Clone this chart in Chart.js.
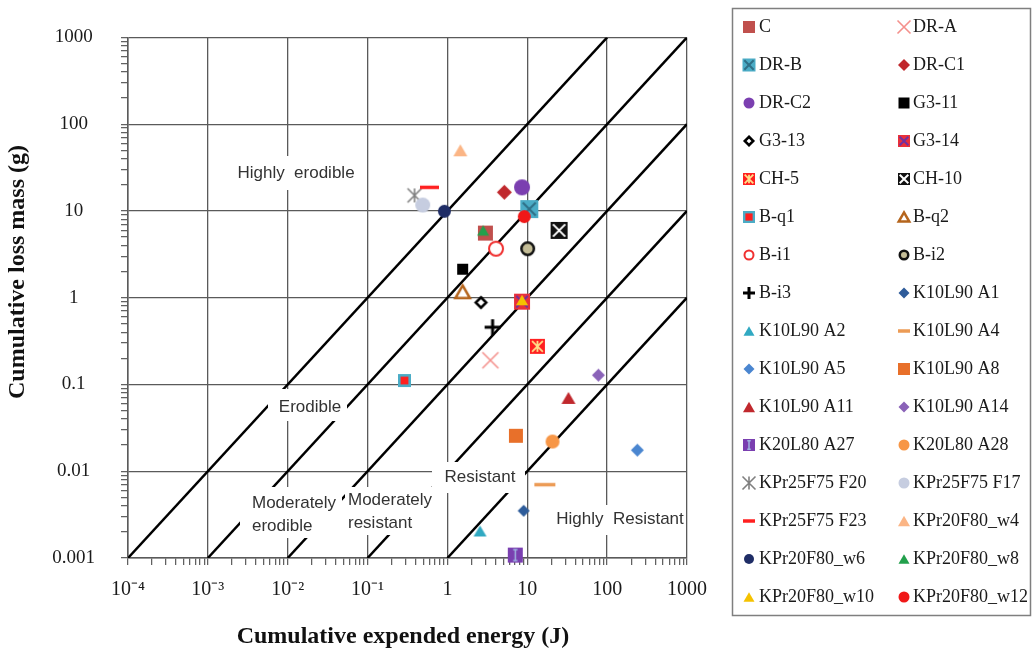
<!DOCTYPE html>
<html>
<head>
<meta charset="utf-8">
<script src="https://cdn.jsdelivr.net/npm/chart.js@4.4.1/dist/chart.umd.min.js"></script>
<style>
  html, body { margin: 0; padding: 0; background: #fff; }
</style>
</head>
<body>
<canvas id="erodibilityChart" width="1036" height="652"></canvas>
<script>
// values
const sampleNames = [
    'C', 'DR-A', 'DR-B', 'DR-C1', 'DR-C2', 'G3-11', 'G3-13', 'G3-14',
    'CH-5', 'CH-10', 'B-q1', 'B-q2', 'B-i1', 'B-i2', 'B-i3', 'K10L90 A1',
    'K10L90 A2', 'K10L90 A4', 'K10L90 A5', 'K10L90 A8', 'K10L90 A11', 'K10L90 A14', 'K20L80 A27', 'K20L80 A28',
    'KPr25F75 F20', 'KPr25F75 F17', 'KPr25F75 F23', 'KPr20F80_w4', 'KPr20F80_w6', 'KPr20F80_w8', 'KPr20F80_w10', 'KPr20F80_w12'
];
const energyJ = [
    2.99, 3.45, 10.6, 5.16, 8.6, 1.55, 2.63, 8.6,
    13.4, 25, 0.29, 1.55, 4.06, 10.1, 3.68, 9.0,
    2.56, 16.6, 239, 7.2, 32.8, 77.8, 7.08, 20.7,
    0.387, 0.49, 0.596, 1.45, 0.917, 2.8, 8.6, 9.17
];
const lossMassG = [
    5.55, 0.19, 10.5, 16.4, 18.7, 2.13, 0.88, 0.9,
    0.275, 5.96, 0.111, 1.17, 3.67, 3.67, 0.457, 0.0035,
    0.00205, 0.0070, 0.0175, 0.0256, 0.070, 0.128, 0.00108, 0.022,
    15.1, 11.7, 18.7, 50, 9.9, 5.96, 0.94, 8.6
];

// erodibility class boundaries (start / end points)
const boundaryStartE = [1e-4, 1e-3, 1e-2, 1e-1, 1];
const boundaryStartM = [1e-3, 1e-3, 1e-3, 1e-3, 1e-3];
const boundaryEndE = [100, 1000, 1000, 1000, 1000];
const boundaryEndM = [1000, 1000, 100, 10, 1];

// tick labels
const xTickValues = [1e-4, 1e-3, 1e-2, 1e-1, 1, 10, 100, 1000];
const xTickLabels = ['10\u207B\u2074', '10\u207B\u00B3', '10\u207B\u00B2', '10\u207B\u00B9', '1', '10', '100', '1000'];
const yTickValues = [1e-3, 1e-2, 1e-1, 1, 10, 100, 1000];
const yTickLabels = ['0.001', '0.01', '0.1', '1', '10', '100', '1000'];

// marker looks (Excel style), plot size / legend size
const markerStyles = [
    { kind: 'square', fill: '#c0504d', size: 15, legendSize: 12 },
    { kind: 'cross', accent: '#f4908c', lw: 1.6, size: 16, legendSize: 13 },
    { kind: 'squareX', fill: '#4bacc6', accent: '#2f6f86', lw: 2, size: 18, legendSize: 13 },
    { kind: 'diamond', fill: '#c0282d', size: 15, legendSize: 12 },
    { kind: 'circle', fill: '#7b3fb0', size: 16, legendSize: 11 },
    { kind: 'square', fill: '#000000', size: 11, legendSize: 11 },
    { kind: 'diamond', fill: '#ffffff', stroke: '#000000', lw: 2.5, size: 13, legendSize: 11 },
    { kind: 'squareX', fill: '#e8303a', accent: '#7030a0', lw: 2, size: 16, legendSize: 12 },
    { kind: 'squareStar', fill: '#ff2020', accent: '#ffe08a', lw: 1.8, size: 15, legendSize: 12 },
    { kind: 'squareX', fill: '#111111', accent: '#ffffff', lw: 2, size: 17, legendSize: 12 },
    { kind: 'squareIn', fill: '#4bacc6', accent: '#ff1f1f', size: 13, legendSize: 12 },
    { kind: 'triangle', fill: '#ffffff', stroke: '#b5651d', lw: 2.5, size: 17, legendSize: 13 },
    { kind: 'circle', fill: '#ffffff', stroke: '#f03030', lw: 2, size: 16, legendSize: 11 },
    { kind: 'circle', fill: '#c4bd97', stroke: '#111111', lw: 2.5, size: 15, legendSize: 11 },
    { kind: 'plus', accent: '#000000', lw: 3, size: 16, legendSize: 12 },
    { kind: 'diamond', fill: '#2e5c9a', size: 12, legendSize: 11 },
    { kind: 'triangle', fill: '#31a9c2', size: 13, legendSize: 11 },
    { kind: 'dash', accent: '#ec9b55', lw: 3.5, size: 21, legendSize: 12 },
    { kind: 'diamond', fill: '#4a86d0', size: 13, legendSize: 11 },
    { kind: 'square', fill: '#e8702a', size: 14, legendSize: 12 },
    { kind: 'triangle', fill: '#c0282d', size: 14, legendSize: 12 },
    { kind: 'diamond', fill: '#8a62b8', size: 13, legendSize: 11 },
    { kind: 'squareBar', fill: '#7a3fb0', accent: '#9fb5e0', lw: 1.5, size: 15, legendSize: 12 },
    { kind: 'circle', fill: '#f79646', size: 14, legendSize: 11 },
    { kind: 'asterisk', accent: '#808080', lw: 1.6, size: 14, legendSize: 13 },
    { kind: 'circle', fill: '#c6cde0', size: 15, legendSize: 11 },
    { kind: 'dash', accent: '#ff2020', lw: 3.5, size: 19, legendSize: 12 },
    { kind: 'triangle', fill: '#fbb585', size: 14, legendSize: 12 },
    { kind: 'circle', fill: '#1f2d66', size: 13, legendSize: 10 },
    { kind: 'triangle', fill: '#22a04c', size: 12, legendSize: 11 },
    { kind: 'triangle', fill: '#f5c200', size: 12, legendSize: 11 },
    { kind: 'circle', fill: '#f01818', size: 13, legendSize: 11 }
];

// class labels sitting on white boxes
const zoneLabels = [
    { lines: ['Highly  erodible'], x: 296, y: 173, align: 'center', box: [230, 156, 132, 34] },
    { lines: ['Erodible'], x: 310, y: 407, align: 'center', box: [268, 389, 79, 32] },
    { lines: ['Moderately', 'erodible'], x: 252, y: 503, align: 'left', box: [240, 487, 102, 51] },
    { lines: ['Moderately', 'resistant'], x: 348, y: 500, align: 'left', box: [345, 487, 97, 48] },
    { lines: ['Resistant'], x: 480, y: 477, align: 'center', box: [432, 462, 93, 31] },
    { lines: ['Highly  Resistant'], x: 620, y: 519, align: 'center', box: [548, 505, 137, 30] }
];

const SERIF = '"Liberation Serif", "Times New Roman", serif';
const SANS = '"Liberation Sans", Arial, sans-serif';

function drawMarker(ctx, m, cx, cy, s) {
    const h = s / 2;
    const k = h * 0.72;
    ctx.save();
    ctx.lineCap = 'butt';
    switch (m.kind) {
        case 'square':
        case 'squareX':
        case 'squareStar':
        case 'squareIn':
        case 'squareBar': {
            ctx.fillStyle = m.fill;
            ctx.fillRect(cx - h, cy - h, s, s);
            ctx.strokeStyle = m.accent;
            ctx.fillStyle = m.accent;
            ctx.lineWidth = m.lw || 2;
            if (m.kind === 'squareX' || m.kind === 'squareStar') {
                ctx.beginPath();
                ctx.moveTo(cx - k, cy - k); ctx.lineTo(cx + k, cy + k);
                ctx.moveTo(cx + k, cy - k); ctx.lineTo(cx - k, cy + k);
                if (m.kind === 'squareStar') { ctx.moveTo(cx, cy - k); ctx.lineTo(cx, cy + k); }
                ctx.stroke();
            } else if (m.kind === 'squareIn') {
                const q = s * 0.3;
                ctx.fillRect(cx - q, cy - q, 2 * q, 2 * q);
            } else if (m.kind === 'squareBar') {
                ctx.beginPath();
                ctx.moveTo(cx, cy - k); ctx.lineTo(cx, cy + k);
                ctx.moveTo(cx - k * 0.4, cy - k); ctx.lineTo(cx + k * 0.4, cy - k);
                ctx.moveTo(cx - k * 0.4, cy + k); ctx.lineTo(cx + k * 0.4, cy + k);
                ctx.stroke();
            }
            break;
        }
        case 'circle':
            ctx.beginPath();
            ctx.arc(cx, cy, m.stroke ? h - m.lw / 2 : h, 0, Math.PI * 2);
            ctx.fillStyle = m.fill;
            ctx.fill();
            if (m.stroke) { ctx.strokeStyle = m.stroke; ctx.lineWidth = m.lw; ctx.stroke(); }
            break;
        case 'diamond': {
            const d = m.stroke ? h - m.lw / 2 : h;
            ctx.beginPath();
            ctx.moveTo(cx, cy - d); ctx.lineTo(cx + d, cy); ctx.lineTo(cx, cy + d); ctx.lineTo(cx - d, cy);
            ctx.closePath();
            ctx.fillStyle = m.fill;
            ctx.fill();
            if (m.stroke) { ctx.strokeStyle = m.stroke; ctx.lineWidth = m.lw; ctx.stroke(); }
            break;
        }
        case 'triangle': {
            const w = m.stroke ? h - m.lw / 2 : h;
            const th = w * 1.73;
            ctx.beginPath();
            ctx.moveTo(cx, cy - th / 2); ctx.lineTo(cx + w, cy + th / 2); ctx.lineTo(cx - w, cy + th / 2);
            ctx.closePath();
            ctx.fillStyle = m.fill;
            ctx.fill();
            if (m.stroke) { ctx.strokeStyle = m.stroke; ctx.lineWidth = m.lw; ctx.lineJoin = 'miter'; ctx.stroke(); }
            break;
        }
        case 'cross':
        case 'asterisk':
            ctx.strokeStyle = m.accent;
            ctx.lineWidth = m.lw;
            ctx.beginPath();
            ctx.moveTo(cx - h, cy - h); ctx.lineTo(cx + h, cy + h);
            ctx.moveTo(cx + h, cy - h); ctx.lineTo(cx - h, cy + h);
            if (m.kind === 'asterisk') { ctx.moveTo(cx, cy - h); ctx.lineTo(cx, cy + h); }
            ctx.stroke();
            break;
        case 'plus':
            ctx.strokeStyle = m.accent;
            ctx.lineWidth = m.lw;
            ctx.beginPath();
            ctx.moveTo(cx - h, cy); ctx.lineTo(cx + h, cy);
            ctx.moveTo(cx, cy - h); ctx.lineTo(cx, cy + h);
            ctx.stroke();
            break;
        case 'dash':
            ctx.strokeStyle = m.accent;
            ctx.lineWidth = m.lw;
            ctx.beginPath();
            ctx.moveTo(cx - h, cy); ctx.lineTo(cx + h, cy);
            ctx.stroke();
            break;
    }
    ctx.restore();
}

function markerImage(m) {
    const c = document.createElement('canvas');
    const side = Math.ceil(m.size + 6);
    c.width = side; c.height = side;
    drawMarker(c.getContext('2d'), m, side / 2, side / 2, m.size);
    return c;
}

const isDecade = v => Math.abs(Math.log10(v) - Math.round(Math.log10(v))) < 1e-6;

function decadeLabel(v, values, labels) {
    const i = values.findIndex(t => Math.abs(Math.log10(t) - Math.log10(v)) < 1e-6);
    return i < 0 ? '' : labels[i];
}

// drop the 1.5 x 10^n steps Chart.js adds, keep 1..9 per decade
function keepWholeSteps(scale) {
    scale.ticks = scale.ticks.filter(t => {
        const m = t.value / Math.pow(10, Math.floor(Math.log10(t.value) + 1e-9));
        return Math.abs(m - Math.round(m)) < 1e-6;
    });
}

const boundaryDatasets = boundaryStartE.map((e, i) => ({
    label: 'boundary ' + (i + 1),
    data: [{ x: e, y: boundaryStartM[i] }, { x: boundaryEndE[i], y: boundaryEndM[i] }],
    showLine: true,
    borderColor: '#000000',
    borderWidth: 2.5,
    pointRadius: 0,
    order: 100
}));

const sampleDatasets = sampleNames.map((name, i) => ({
    label: name,
    data: [{ x: energyJ[i], y: lossMassG[i] }],
    pointStyle: markerImage(markerStyles[i]),
    pointRadius: markerStyles[i].size / 2,
    clip: false,
    order: sampleNames.length - i      // later series on top, like Excel
}));

const zoneLabelPlugin = {
    id: 'zoneLabels',
    afterDatasetsDraw(chart) {
        const ctx = chart.ctx;
        ctx.save();
        ctx.font = '17px ' + SANS;
        ctx.textBaseline = 'middle';
        zoneLabels.forEach(z => {
            ctx.fillStyle = '#ffffff';
            ctx.fillRect(z.box[0], z.box[1], z.box[2], z.box[3]);
            ctx.fillStyle = '#333333';
            ctx.textAlign = z.align;
            z.lines.forEach((line, j) => ctx.fillText(line, z.x, z.y + j * 23));
        });
        ctx.restore();
    }
};

const axisTitlePlugin = {
    id: 'axisTitles',
    afterDraw(chart) {
        const ctx = chart.ctx;
        ctx.save();
        ctx.font = 'bold 24px ' + SERIF;
        ctx.fillStyle = '#111111';
        ctx.textAlign = 'center';
        ctx.textBaseline = 'middle';
        ctx.fillText('Cumulative expended energy (J)', 403, 637);
        ctx.translate(18, 272);
        ctx.rotate(-Math.PI / 2);
        ctx.fillText('Cumulative loss mass (g)', 0, 0);
        ctx.restore();
    }
};

const twoColumnLegend = {
    id: 'twoColumnLegend',
    afterDraw(chart) {
        const ctx = chart.ctx;
        ctx.save();
        ctx.strokeStyle = '#7f7f7f';
        ctx.lineWidth = 1.5;
        ctx.strokeRect(732.5, 8.5, 298, 607);
        ctx.font = '18px ' + SERIF;
        ctx.textBaseline = 'middle';
        ctx.textAlign = 'left';
        sampleNames.forEach((name, i) => {
            const col = i % 2;
            const y = 27 + Math.floor(i / 2) * 38;
            drawMarker(ctx, markerStyles[i], col ? 904 : 749, y, markerStyles[i].legendSize);
            ctx.fillStyle = '#1a1a1a';
            ctx.fillText(name, col ? 913 : 759, y);
        });
        ctx.restore();
    }
};

const gridColor = '#5a5a5a';

new Chart(document.getElementById('erodibilityChart'), {
    type: 'scatter',
    data: { datasets: boundaryDatasets.concat(sampleDatasets) },
    options: {
        responsive: false,
        animation: false,
        events: [],
        layout: { padding: { top: 34, right: 349, left: 0, bottom: 0 } },
        plugins: {
            legend: { display: false },
            tooltip: { enabled: false }
        },
        scales: {
            x: {
                type: 'logarithmic',
                min: 1e-4,
                max: 1000,
                afterBuildTicks: keepWholeSteps,
                afterFit: s => { s.height = 94; },
                ticks: {
                    autoSkip: false,
                    maxRotation: 0,
                    padding: 13,
                    color: '#1a1a1a',
                    font: { family: SERIF, size: 20 },
                    callback: v => decadeLabel(v, xTickValues, xTickLabels)
                },
                grid: {
                    color: c => isDecade(c.tick.value) ? gridColor : 'rgba(0,0,0,0)',
                    lineWidth: 1.3,
                    tickColor: gridColor,
                    tickLength: 7,
                    tickWidth: 1.2
                },
                border: { color: gridColor, width: 1.5 }
            },
            y: {
                type: 'logarithmic',
                min: 1e-3,
                max: 1000,
                afterBuildTicks: keepWholeSteps,
                afterFit: s => { s.width = 128; },
                ticks: {
                    autoSkip: false,
                    padding: 26,
                    crossAlign: 'center',
                    color: '#1a1a1a',
                    font: { family: SERIF, size: 19 },
                    callback: v => decadeLabel(v, yTickValues, yTickLabels)
                },
                grid: {
                    color: c => isDecade(c.tick.value) ? gridColor : 'rgba(0,0,0,0)',
                    lineWidth: 1.3,
                    tickColor: gridColor,
                    tickLength: 7,
                    tickWidth: 1.2
                },
                border: { color: gridColor, width: 1.5 }
            }
        }
    },
    plugins: [zoneLabelPlugin, axisTitlePlugin, twoColumnLegend]
});
</script>
</body>
</html>
